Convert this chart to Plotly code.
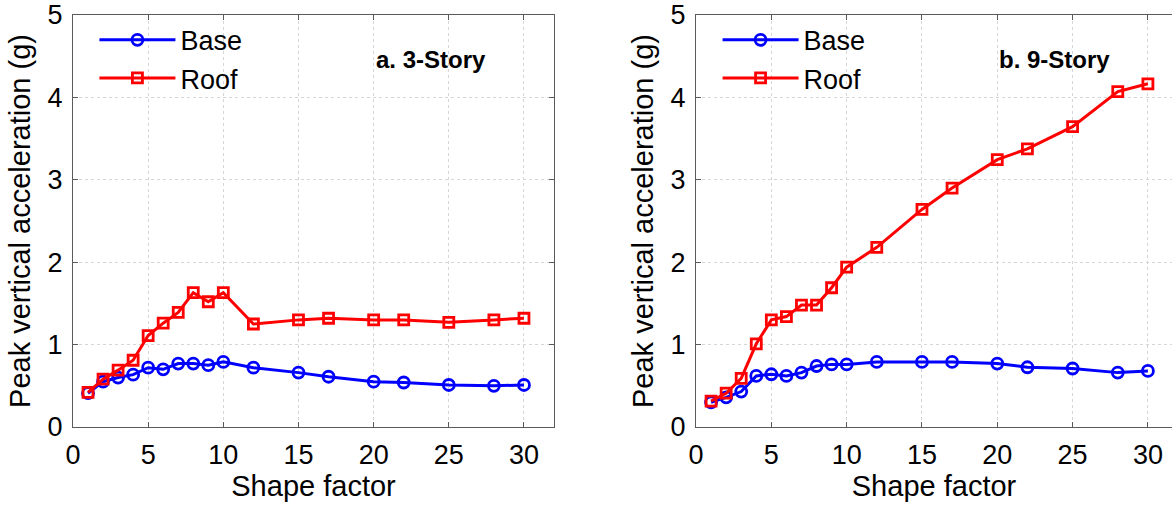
import plotly.graph_objects as go

# Shape factor values (x) shared by both buildings
shape_factor = [1, 2, 3, 4, 5, 6, 7, 8, 9, 10, 12, 15, 17, 20, 22, 25, 28, 30]

# 3-story building: peak vertical acceleration (g)
base_3 = [0.41, 0.55, 0.60, 0.635, 0.72, 0.70, 0.77, 0.77, 0.75, 0.79,
          0.72, 0.66, 0.61, 0.55, 0.54, 0.51, 0.50, 0.51]
roof_3 = [0.42, 0.58, 0.69, 0.81, 1.11, 1.26, 1.39, 1.63, 1.52, 1.63,
          1.25, 1.30, 1.32, 1.30, 1.30, 1.27, 1.30, 1.32]

# 9-story building: peak vertical acceleration (g)
base_9 = [0.30, 0.36, 0.43, 0.62, 0.64, 0.62, 0.66, 0.74, 0.76, 0.76,
          0.79, 0.79, 0.79, 0.77, 0.725, 0.71, 0.66, 0.68]
roof_9 = [0.315, 0.41, 0.59, 1.01, 1.30, 1.34, 1.48, 1.48, 1.69, 1.94,
          2.18, 2.64, 2.90, 3.245, 3.375, 3.645, 4.07, 4.165]

panel_titles = ["a. 3-Story", "b. 9-Story"]
x_ticks = [0, 5, 10, 15, 20, 25, 30]
y_ticks = [0, 1, 2, 3, 4, 5]

FONT = "Liberation Sans, Arial, sans-serif"
BLUE = "#0000FF"
RED = "#FF0000"

fig = go.Figure()

panels = [
    (base_3, roof_3, "x", "y", "legend"),
    (base_9, roof_9, "x2", "y2", "legend2"),
]
for base, roof, xa, ya, lg in panels:
    fig.add_trace(go.Scatter(
        x=shape_factor, y=base, name="Base", mode="lines+markers",
        xaxis=xa, yaxis=ya, legend=lg,
        line=dict(color=BLUE, width=3),
        marker=dict(symbol="circle-open", size=11, color=BLUE,
                    line=dict(width=2.8, color=BLUE)),
    ))
    fig.add_trace(go.Scatter(
        x=shape_factor, y=roof, name="Roof", mode="lines+markers",
        xaxis=xa, yaxis=ya, legend=lg,
        line=dict(color=RED, width=3),
        marker=dict(symbol="square-open", size=10, color=RED,
                    line=dict(width=2.8, color=RED)),
    ))

axis_line = "#5a5a5a"
grid = "#d6d6d6"

common_x = dict(
    tickvals=x_ticks, ticks="inside", ticklen=5, tickcolor=axis_line,
    showline=True, linecolor=axis_line, linewidth=1,
    showgrid=True, gridcolor=grid, griddash="dot", gridwidth=1,
    zeroline=False, tickfont=dict(family=FONT, size=27, color="black"),
    title=dict(text="Shape factor", font=dict(family=FONT, size=29, color="black"),
               standoff=4),
    ticklabelstandoff=4,
)
common_y = dict(
    tickvals=y_ticks, range=[0, 5], ticks="inside", ticklen=5, tickcolor=axis_line,
    showline=True, linecolor=axis_line, linewidth=1,
    showgrid=True, gridcolor=grid, griddash="dot", gridwidth=1,
    zeroline=False, tickfont=dict(family=FONT, size=27, color="black"),
    title=dict(text="Peak vertical acceleration (g)",
               font=dict(family=FONT, size=29, color="black"), standoff=8),
    ticklabelstandoff=4,
)

fig.update_layout(
    width=1172, height=506,
    margin=dict(l=73, r=0, t=15, b=79),
    paper_bgcolor="white", plot_bgcolor="white",
    xaxis=dict(domain=[0, 0.4377], range=[0, 32], mirror="ticks", anchor="y", **common_x),
    yaxis=dict(domain=[0, 1], mirror="ticks", anchor="x", **common_y),
    xaxis2=dict(domain=[0.5669, 1], range=[0, 31.6], mirror="ticks", anchor="y2", **common_x),
    yaxis2=dict(domain=[0, 1], mirror=False, anchor="x2", **common_y),
    legend=dict(x=0.0195, y=0.998, xanchor="left", yanchor="top", xref="paper",
                bgcolor="rgba(0,0,0,0)", font=dict(family=FONT, size=27, color="black"),
                itemwidth=76, tracegroupgap=0),
    legend2=dict(x=0.5865, y=0.998, xanchor="left", yanchor="top", xref="paper",
                 bgcolor="rgba(0,0,0,0)", font=dict(family=FONT, size=27, color="black"),
                 itemwidth=76, tracegroupgap=0),
    showlegend=True,
)

for title, xr, yr in zip(panel_titles, ["x", "x2"], ["y", "y2"]):
    fig.add_annotation(
        text="<b>" + title + "</b>", x=23.8, y=4.46, xref=xr, yref=yr,
        showarrow=False, font=dict(family=FONT, size=24, color="black"),
    )

fig.write_html("out.html")
